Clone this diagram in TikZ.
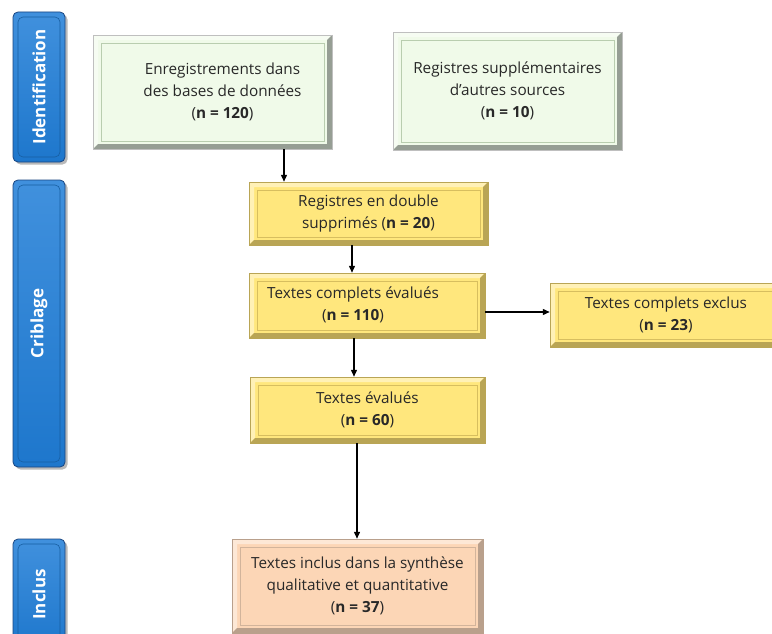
\documentclass[tikz,border=0pt]{standalone}
\usepackage{fontspec}
\setmainfont{Open Sans}
\usetikzlibrary{arrows.meta,calc,shadows}
\definecolor{gfill}{RGB}{240,250,233}
\definecolor{gbev}{RGB}{150,158,148}
\definecolor{gline}{RGB}{185,205,175}
\definecolor{yfill}{RGB}{255,231,125}
\definecolor{ybev}{RGB}{185,165,85}
\definecolor{yline}{RGB}{215,190,95}
\definecolor{pfill}{RGB}{252,214,182}
\definecolor{pbev}{RGB}{185,160,140}
\definecolor{pline}{RGB}{210,180,155}
\definecolor{barblue}{RGB}{31,125,215}
\definecolor{bardark}{RGB}{25,70,130}
\definecolor{txt}{RGB}{40,40,40}
\newcommand\boxfont{\fontsize{15.3}{22}\selectfont}
\newcommand\barfont{\fontsize{17}{20}\selectfont\bfseries}
\tikzset{
  bbox/.style n args={4}{
    fill=#1, draw=#4, line width=0.5pt, align=center, inner sep=0pt,
    font=\boxfont, text=txt,
    path picture={
      \path (path picture bounding box.north east) coordinate (pNE)
            (path picture bounding box.south east) coordinate (pSE)
            (path picture bounding box.south west) coordinate (pSW)
            (path picture bounding box.north west) coordinate (pNW);
      \fill[white,opacity=0.45] (pNW) -- (pNE) -- ([shift={(-5pt,-5pt)}]pNE)
            -- ([shift={(5pt,-5pt)}]pNW) -- ([shift={(5pt,5pt)}]pSW) -- (pSW) -- cycle;
      \fill[#2] (pNE) -- (pSE) -- (pSW) -- ([shift={(5pt,5pt)}]pSW)
            -- ([shift={(-5pt,5pt)}]pSE) -- ([shift={(-5pt,-5pt)}]pNE) -- cycle;
      \draw[#3, line width=0.7pt] ([shift={(8pt,-8pt)}]pNW) rectangle ([shift={(-8pt,8pt)}]pSE);
    }
  },
  gbox/.style={bbox={gfill}{gbev}{gline}{gray!50}},
  ybox/.style={bbox={yfill}{ybev}{yline}{ybev}},
  pbox/.style={bbox={pfill}{pbev}{pline}{pbev}},
  bar/.style={draw=bardark, line width=0.8pt, rounded corners=5pt,
    top color=barblue!85!white, bottom color=barblue!95!black,
    text=white, font=\barfont, inner sep=0pt, minimum width=52pt,
    drop shadow={shadow xshift=2.5pt, shadow yshift=-2.5pt, fill=gray!55, opacity=1},
    path picture={
      \draw[barblue!75!black, line width=0.6pt]
        ([shift={(5pt,-5pt)}]path picture bounding box.north west) rectangle
        ([shift={(-5pt,5pt)}]path picture bounding box.south east);
    }},
  arr/.style={-{Triangle[length=7pt,width=6pt]}, line width=1.4pt, black}
}
\begin{document}
\begin{tikzpicture}[x=1pt,y=-1pt]
\useasboundingbox (0,0) rectangle (772,634);
\fill[white] (0,0) rectangle (772,634);
% phase bars
\node[bar, minimum height=150pt] (p1) at (39,87) {\rotatebox{90}{Identification}};
\node[bar, minimum height=287pt] (p2) at (39,323.5) {\rotatebox{90}{Criblage}};
\node[bar, minimum height=111pt] (p3) at (39,594.5) {\rotatebox{90}{Inclus}};
% boxes
\node[gbox, minimum width=239pt, minimum height=114pt] (b1) at (212.5,92)
  {\hspace*{20pt}\raisebox{-3pt}{\begin{tabular}{@{}c@{}}Enregistrements dans\\des bases de données\\(\textbf{n = 120})\end{tabular}}};
\node[gbox, minimum width=229pt, minimum height=118pt] (b2) at (507.5,91)
  {Registres supplémentaires\\d'autres sources\\(\textbf{n = 10})};
\node[ybox, minimum width=239pt, minimum height=63pt] (b3) at (368.5,213.5)
  {Registres en double\\supprimés (\textbf{n = 20})};
\node[ybox, minimum width=236pt, minimum height=65pt] (b4) at (367,305.5)
  {\hspace*{-28pt}\begin{tabular}{@{}c@{}}Textes complets évalués\\(\textbf{n = 110})\end{tabular}};
\node[ybox, minimum width=232pt, minimum height=64pt] (b5) at (666,315)
  {Textes complets exclus\\(\textbf{n = 23})};
\node[ybox, minimum width=235pt, minimum height=66pt] (b6) at (367.5,410)
  {Textes évalués\\(\textbf{n = 60})};
\node[pbox, minimum width=251pt, minimum height=94pt] (b7) at (357.5,586)
  {Textes inclus dans la synthèse\\qualitative et quantitative\\(\textbf{n = 37})};
% arrow columns
\coordinate (c1) at (284,0);
\coordinate (c2) at (352,0);
\coordinate (c3) at (354,0);
\coordinate (c4) at (357,0);
\coordinate (r1) at (0,312);
\draw[arr] (b1.south -| c1) -- (b3.north -| c1);
\draw[arr] (b3.south -| c2) -- (b4.north -| c2);
\draw[arr] (b4.south -| c3) -- (b6.north -| c3);
\draw[arr] (b6.south -| c4) -- (b7.north -| c4);
\draw[arr] (b4.east |- r1) -- (b5.west |- r1);
\end{tikzpicture}
\end{document}
